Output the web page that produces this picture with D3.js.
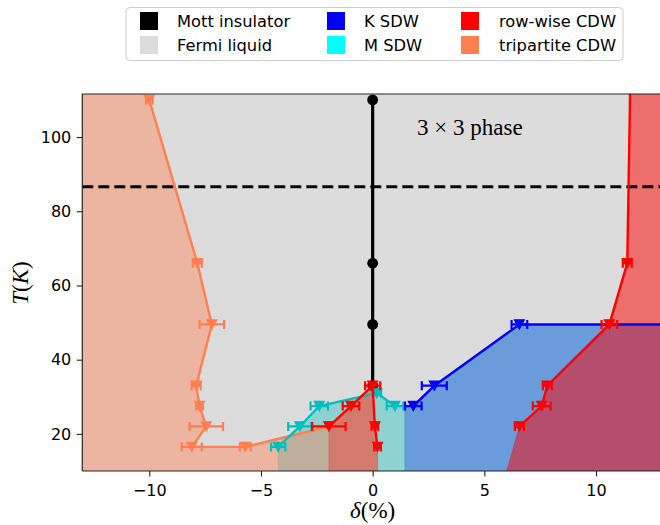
<!DOCTYPE html>
<html>
<head>
<meta charset="utf-8">
<script src="https://cdn.jsdelivr.net/npm/d3@7.9.0/dist/d3.min.js"></script>
<style>
  body { margin: 0; background: #fff; }
  svg { display: block; }
</style>
</head>
<body>
<svg id="chart" width="660" height="525"></svg>
<script>
// values: doping delta (%), temperature T (K), horizontal error on delta
const mottDelta = [0, 0, 0, 0];
const mottT = [110, 66, 49.5, 33];

const triDelta = [-10.0, -7.85, -7.2, -7.9, -7.75, -7.45, -8.1, -5.7, -1.96];
const triT = [110, 66, 49.5, 33, 27.5, 22, 16.5, 16.5, 22];
const triErr = [0.15, 0.2, 0.55, 0.2, 0.15, 0.75, 0.45, 0.25, 0.75];

const mDelta = [-4.23, -3.26, -2.39, 0.18, 1.0];
const mT = [16.5, 22, 27.5, 31, 27.5];
const mErr = [0.32, 0.52, 0.39, 0.2, 0.37];

const kDelta = [1.82, 2.76, 6.57, 14];
const kT = [27.5, 33, 49.5, 49.5];
const kErr = [0.37, 0.56, 0.35, 0];

const rowMidDelta = [-1.96, -0.97, 0, 0.1, 0.22];
const rowMidT = [22, 27.5, 33, 22, 16.5];
const rowMidErr = [0.75, 0.37, 0.34, 0.15, 0.15];

const rowDelta = [6.57, 7.57, 7.82, 10.6, 11.4, 11.55];
const rowT = [22, 27.5, 33, 49.5, 66, 120];
const rowErr = [0.2, 0.4, 0.2, 0.35, 0.2, 0];
const rowFoot = 6.0; // row-wise region meets the bottom axis here

const dashedT = 86.6;
const xTicks = [-10, -5, 0, 5, 10];
const yTicks = [20, 40, 60, 80, 100];

const legendNames = ['Mott insulator', 'Fermi liquid', 'K SDW', 'M SDW', 'row-wise CDW', 'tripartite CDW'];
const legendColors = ['#000000', '#dcdcdc', '#0000ff', '#00ffff', '#ff0000', '#ff7f50'];

const xDom = [-13, 13], yDom = [10, 111.6];
const pLeft = 82.3, pRight = 663, pTop = 94, pBottom = 471;

const x = d3.scaleLinear().domain(xDom).range([pLeft, pRight]);
const y = d3.scaleLinear().domain(yDom).range([pBottom, pTop]);

const svg = d3.select('#chart');
svg.append('rect').attr('width', 660).attr('height', 525).attr('fill', '#fff');

svg.append('clipPath').attr('id', 'plot')
  .append('rect').attr('x', pLeft).attr('y', pTop)
  .attr('width', pRight - pLeft).attr('height', pBottom - pTop);

const plot = svg.append('g').attr('clip-path', 'url(#plot)');
plot.append('rect').attr('x', pLeft).attr('y', pTop)
  .attr('width', pRight - pLeft).attr('height', pBottom - pTop).attr('fill', '#dcdcdc');

const zip = (ds, ts) => ds.map((d, i) => [d, ts[i]]);
const line = d3.line().x(p => x(p[0])).y(p => y(p[1]));

// phase regions
const lo = yDom[0], hi = yDom[1];
const kLeft = kDelta[0] - kErr[0];
const triTopX = triDelta[0] + (triDelta[0] - triDelta[1]) / (triT[0] - triT[1]) * (hi - triT[0]);
const midLast = rowMidDelta[rowMidDelta.length - 1];

const regions = [
  { color: '#00bfbf', op: 0.35,
    pts: [[mDelta[0], lo], ...zip(mDelta, mT), [kLeft, kT[0]], [kLeft, lo]] },
  { color: '#ff7f50', op: 0.42,
    pts: [[xDom[0], lo], [xDom[0], hi], [triTopX, hi], ...zip(triDelta, triT),
          ...zip(rowMidDelta, rowMidT).slice(1), [midLast, lo]] },
  { color: '#1e70d9', op: 0.6,
    pts: [[kLeft, lo], [kLeft, kT[0]], ...zip(kDelta, kT), [kDelta[kDelta.length - 1], lo]] },
  { color: '#ff0000', op: 0.3,
    pts: [[rowMidDelta[0], lo], ...zip(rowMidDelta, rowMidT), [midLast, lo]] },
  { color: '#ff0000', op: 0.5,
    pts: [[rowFoot, lo], ...zip(rowDelta, rowT), [14, rowT[rowT.length - 1]], [14, lo]] }
];

regions.forEach(r => {
  plot.append('path').attr('d', line(r.pts) + 'Z')
    .attr('fill', r.color).attr('fill-opacity', r.op)
    .attr('stroke', r.color).attr('stroke-opacity', r.op * 0.6).attr('stroke-width', 1);
});

// dashed line
plot.append('path').attr('d', line([[xDom[0], dashedT], [xDom[1], dashedT]]))
  .attr('stroke', '#000').attr('stroke-width', 3).attr('stroke-dasharray', '11,5').attr('fill', 'none');

const tri = 'M-5,-4.6L5,-4.6L0,4.6Z';

function series(ds, ts, errs, color) {
  const g = plot.append('g');
  const pts = zip(ds, ts);
  g.append('path').attr('d', line(pts)).attr('fill', 'none')
    .attr('stroke', color).attr('stroke-width', 2.4).attr('stroke-linejoin', 'round');
  pts.forEach((p, i) => {
    const e = errs[i];
    if (!e) return;
    const cy = y(p[1]), x0 = x(p[0] - e), x1 = x(p[0] + e);
    g.append('path')
      .attr('d', `M${x0},${cy}H${x1}M${x0},${cy - 4.5}V${cy + 4.5}M${x1},${cy - 4.5}V${cy + 4.5}`)
      .attr('stroke', color).attr('stroke-width', 2.2).attr('fill', 'none');
  });
  g.selectAll('path.m').data(pts).join('path').attr('class', 'm')
    .attr('d', tri)
    .attr('transform', p => `translate(${x(p[0])},${y(p[1])})`)
    .attr('fill', color).attr('stroke', color).attr('stroke-width', 1.2);
}

// Mott insulator line
plot.append('path').attr('d', line(zip(mottDelta, mottT)))
  .attr('stroke', '#000').attr('stroke-width', 3.2).attr('fill', 'none');
plot.selectAll('circle.mott').data(zip(mottDelta, mottT)).join('circle')
  .attr('class', 'mott').attr('cx', p => x(p[0])).attr('cy', p => y(p[1]))
  .attr('r', 5.4).attr('fill', '#000');

series(triDelta, triT, triErr, '#ff7f50');
series(mDelta, mT, mErr, '#00bfbf');
series(kDelta, kT, kErr, '#0000ff');
series(rowMidDelta, rowMidT, rowMidErr, '#ff0000');
series(rowDelta, rowT, rowErr, '#ff0000');

plot.append('text').attr('x', 417).attr('y', 135)
  .attr('font-family', '"Liberation Serif", "DejaVu Serif", serif').attr('font-size', 23)
  .text('3 × 3 phase');

// axes
const tickFont = '"DejaVu Sans", sans-serif';
const fmt = d3.format('d');
const xAxis = svg.append('g').attr('transform', `translate(0,${pBottom})`)
  .call(d3.axisBottom(x).tickValues(xTicks).tickSize(5.5).tickPadding(8).tickFormat(fmt));
const yAxis = svg.append('g').attr('transform', `translate(${pLeft},0)`)
  .call(d3.axisLeft(y).tickValues(yTicks).tickSize(5.5).tickPadding(5.5).tickFormat(fmt));
[xAxis, yAxis].forEach(a => {
  a.select('.domain').remove();
  a.selectAll('line').attr('stroke', '#222').attr('stroke-width', 1.1);
  a.selectAll('text').attr('font-family', tickFont).attr('font-size', 16).attr('fill', '#000');
});

svg.append('path')
  .attr('d', `M${pLeft},${pBottom}V${pTop}H${pRight}M${pLeft},${pBottom}H${pRight}`)
  .attr('fill', 'none').attr('stroke', '#262626').attr('stroke-width', 1.2);

const serif = '"Liberation Serif", "DejaVu Serif", serif';
const xl = svg.append('text').attr('x', x(0)).attr('y', 518).attr('text-anchor', 'middle')
  .attr('font-family', serif).attr('font-size', 23);
xl.append('tspan').attr('font-style', 'italic').text('δ');
xl.append('tspan').text('(%)');

const yl = svg.append('text').attr('transform', 'translate(28,283) rotate(-90)')
  .attr('text-anchor', 'middle').attr('font-family', serif).attr('font-size', 23);
yl.append('tspan').attr('font-style', 'italic').text('T');
yl.append('tspan').text('(');
yl.append('tspan').attr('font-style', 'italic').text('K');
yl.append('tspan').text(')');

// legend, filled column by column
const leg = svg.append('g');
leg.append('rect').attr('x', 126).attr('y', 7.5).attr('width', 497).attr('height', 53)
  .attr('rx', 4).attr('fill', '#fff').attr('fill-opacity', 0.8)
  .attr('stroke', '#cccccc').attr('stroke-width', 1);
const patchX = [140, 327, 461];
const labelX = [177, 364, 499];
const rowY = [21, 45];
legendNames.forEach((name, i) => {
  const c = Math.floor(i / 2), r = i % 2;
  leg.append('rect').attr('x', patchX[c]).attr('y', rowY[r] - 9)
    .attr('width', 18).attr('height', 18).attr('fill', legendColors[i]);
  leg.append('text').attr('x', labelX[c]).attr('y', rowY[r]).attr('dy', '0.35em')
    .attr('font-family', tickFont).attr('font-size', 16.3).text(name);
});
</script>
</body>
</html>
